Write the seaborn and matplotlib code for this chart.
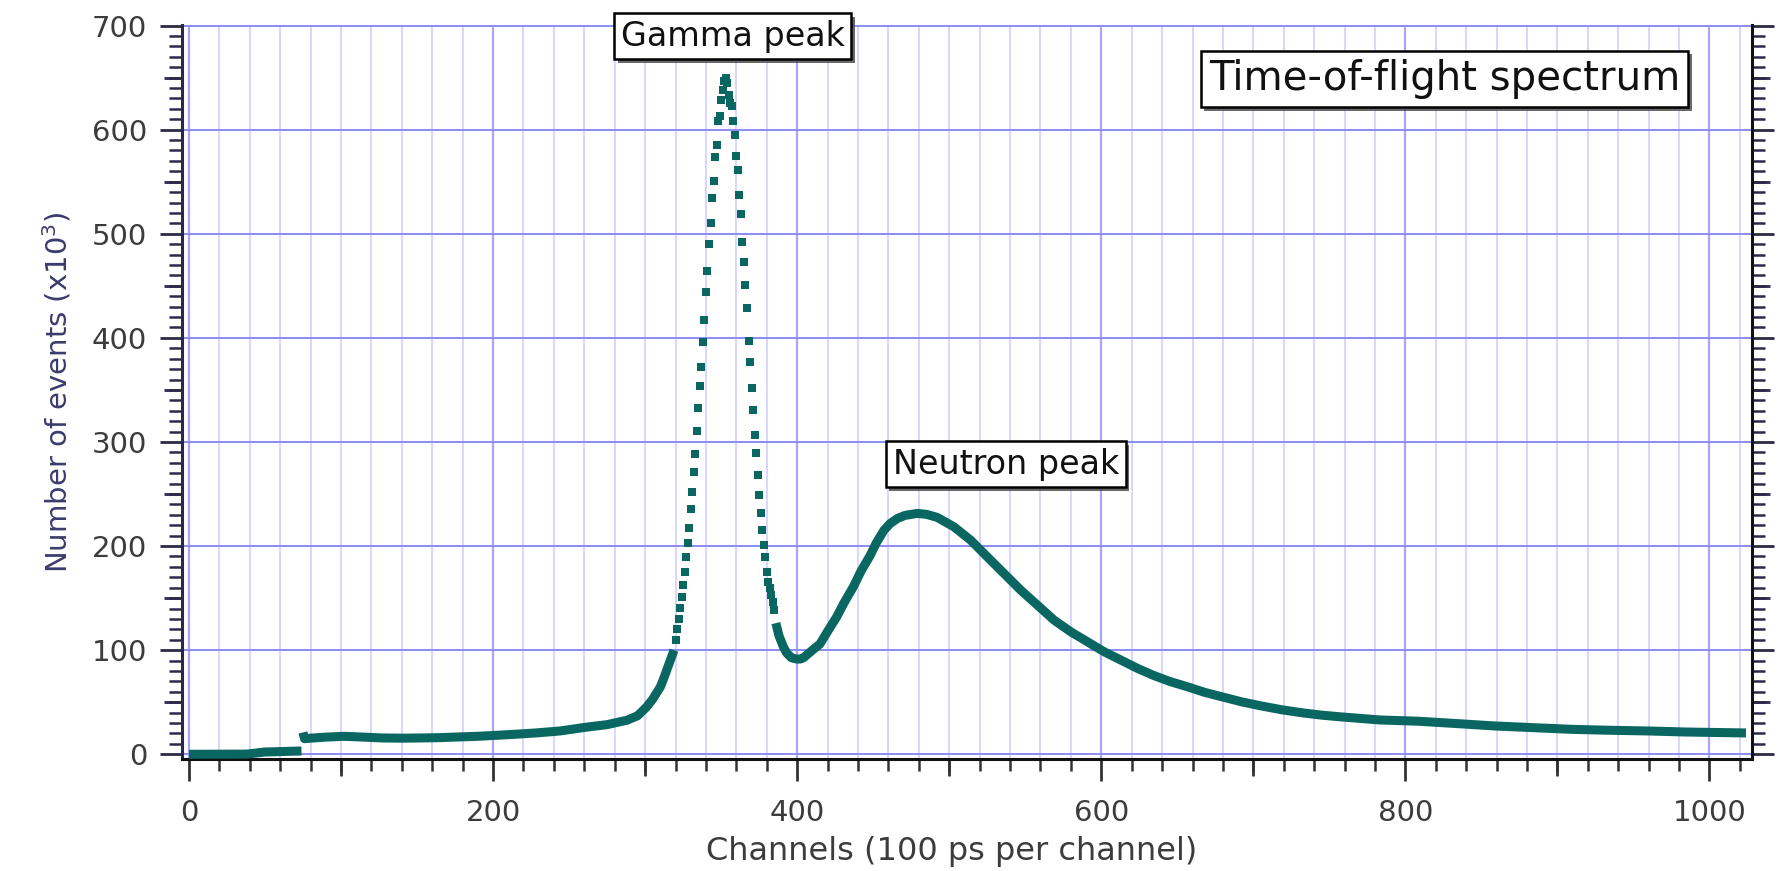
import numpy as np
import matplotlib
matplotlib.use("Agg")
import matplotlib.pyplot as plt
import matplotlib.patheffects as pe
from matplotlib.ticker import MultipleLocator
import seaborn as sns

# first flat stretch before the jump at channel 75
base_ch = [0, 38, 50, 74]
base_val = [0.0, 0.2, 2.2, 3.2]

# background up to the start of the gamma peak
pre_ch = [75, 76, 80, 90, 102, 115, 127, 140, 153, 165, 178, 190, 203, 215,
          228, 244, 261, 275, 288, 295, 301, 305, 310, 312, 315, 317, 319]
pre_val = [21.0, 15.0, 15.5, 16.5, 17.3, 16.5, 15.7, 15.5, 15.7, 16.0, 16.7,
           17.3, 18.3, 19.3, 20.5, 22.4, 26.0, 28.5, 32.7, 37.0, 45.5, 53.0,
           64.7, 72.0, 84.0, 92.0, 100.0]

# gamma peak, one point per channel (320..385)
gamma_ch = np.arange(320, 386)
gamma_val = [109.6, 119.9, 129.5, 140.1, 151.3, 162.5, 175.3, 189.7, 203.2,
             217.0, 235.6, 252.2, 271.4, 288.5, 310.6, 332.4, 353.8, 372.4,
             396.4, 417.3, 443.6, 463.8, 490.1, 510.3, 534.3, 550.3, 573.8,
             585.6, 608.0, 612.8, 628.8, 638.5, 646.5,
             650.0,
             644.9, 633.7, 625.7, 622.4, 608.0, 595.2, 574.3, 560.9, 537.5,
             519.2, 491.6, 473.1, 450.9, 428.6, 397.4, 377.2, 351.6, 330.8,
             306.7, 289.1, 268.3, 249.0, 231.4, 215.4, 201.0, 189.7, 175.3,
             165.7, 159.3, 152.9, 146.4, 138.5]

# valley, neutron peak and tail
tail_ch = [386, 388, 391, 393, 396, 398, 400, 402, 404, 406, 410, 415, 420, 426,
           431, 437, 442, 448, 452, 457, 461, 466, 471, 479, 485, 492, 497, 503,
           514, 525, 536, 547, 558, 569, 580, 591, 602, 613, 624, 634, 645, 657,
           668, 680, 692, 705, 719, 733, 745, 758, 783, 808, 834, 859, 884, 909,
           934, 960, 985, 1024]
tail_val = [126.0, 114.0, 103.0, 97.5, 93.0, 92.0, 91.5, 91.5, 92.5, 95.0,
            100.0, 106.0, 118.0, 132.0, 146.0, 161.0, 176.0, 191.0, 203.0,
            215.0, 221.5, 226.6, 229.5, 231.4, 230.5, 227.6, 223.5, 218.6,
            205.8, 189.7, 173.7, 157.7, 143.3, 128.8, 117.6, 108.0, 98.4, 90.4,
            82.4, 76.0, 70.0, 64.7, 59.5, 55.0, 50.5, 46.5, 42.7, 39.7, 37.6,
            35.9, 33.0, 31.8, 29.5, 27.2, 25.6, 24.0, 23.1, 22.4, 21.4, 20.5]

x_ticks = [0, 200, 400, 600, 800, 1000]
y_ticks = [0, 100, 200, 300, 400, 500, 600, 700]

teal = "#0a6660"

sns.set_style("white")
plt.rcParams["font.family"] = ["DejaVu Sans"]

fig = plt.figure(figsize=(17.84, 8.71), dpi=100)
ax = fig.add_axes([0.102, 0.1286, 0.8801, 0.8427])

for xs, ys in [(base_ch, base_val), (pre_ch, pre_val), (tail_ch, tail_val)]:
    sns.lineplot(x=xs, y=ys, ax=ax, color=teal, lw=6.5, estimator=None,
                 solid_capstyle="butt", solid_joinstyle="round", zorder=3)
sns.scatterplot(x=gamma_ch, y=gamma_val, ax=ax, color=teal, marker="s", s=32,
                linewidth=0, zorder=3)

ax.set_xlim(-4.6, 1028)
ax.set_ylim(-4.5, 700.5)
ax.set_xticks(x_ticks)
ax.set_yticks(y_ticks)
ax.xaxis.set_minor_locator(MultipleLocator(20))
ax.yaxis.set_minor_locator(MultipleLocator(10))

ax.grid(which="minor", axis="x", color="#d8d8ff", lw=1.5, zorder=0)
ax.grid(which="major", axis="x", color="#a6a6ff", lw=1.6, zorder=0)
ax.grid(which="major", axis="y", color="#8c8cf2", lw=1.4, zorder=0)
ax.set_axisbelow(True)

ax.spines["top"].set_visible(False)
for side in ["left", "right", "bottom"]:
    ax.spines[side].set_linewidth(2.2)
ax.spines["left"].set_color("#2a2a48")
ax.spines["right"].set_color("#111111")
ax.spines["bottom"].set_color("#111111")

ax.tick_params(axis="x", which="both", bottom=True, top=False)
ax.tick_params(axis="y", which="both", left=True, right=True, labelright=False)
ax.tick_params(axis="x", which="major", direction="out", length=16, width=2,
               pad=13, labelsize=21, color="#333333", labelcolor="#3c3c3c")
ax.tick_params(axis="x", which="minor", direction="out", length=8.5, width=1.8,
               color="#333333")
ax.tick_params(axis="y", which="major", direction="out", length=16, width=2,
               pad=9, labelsize=21, color="#2a2a48", labelcolor="#3c3c3c")
ax.tick_params(axis="y", which="minor", direction="out", length=9.5, width=1.8,
               color="#2a2a48")

# medium ticks at the half-way marks
secx = ax.secondary_xaxis("bottom")
secx.set_xticks(np.arange(100, 1001, 200))
secx.tick_params(bottom=True, length=12, width=2, labelbottom=False, color="#333333")
secx.spines["bottom"].set_visible(False)
for side in ["left", "right"]:
    secy = ax.secondary_yaxis(side)
    secy.set_yticks(np.arange(50, 700, 100))
    secy.tick_params(left=(side == "left"), right=(side == "right"), length=13,
                     width=2, labelleft=False, labelright=False, color="#2a2a48")
    secy.spines[side].set_visible(False)

ax.set_xlabel("Channels (100 ps per channel)", fontsize=23, color="#3c3c3c")
ax.set_ylabel("Number of events (x10$^3$)", fontsize=21, color="#3b3b6e")
ax.xaxis.set_label_coords(0.49, -0.105)
ax.yaxis.set_label_coords(-0.069, 0.5)

box = dict(boxstyle="square,pad=0.2", fc="white", ec="black", lw=1.8)
shadow = [pe.SimplePatchShadow(offset=(2.5, -2.5), shadow_rgbFace="#444444", alpha=0.8),
          pe.Normal()]
for x, y, label, size in [(357.6, 689.7, "Gamma peak", 24),
                          (537.2, 278.6, "Neutron peak", 24),
                          (825.7, 648.6, "Time-of-flight spectrum", 29)]:
    t = ax.text(x, y, label, ha="center", va="center", fontsize=size,
                color="#111111", bbox=box, zorder=6, clip_on=False)
    t.get_bbox_patch().set_path_effects(shadow)

fig.savefig("out.png", dpi=100)
